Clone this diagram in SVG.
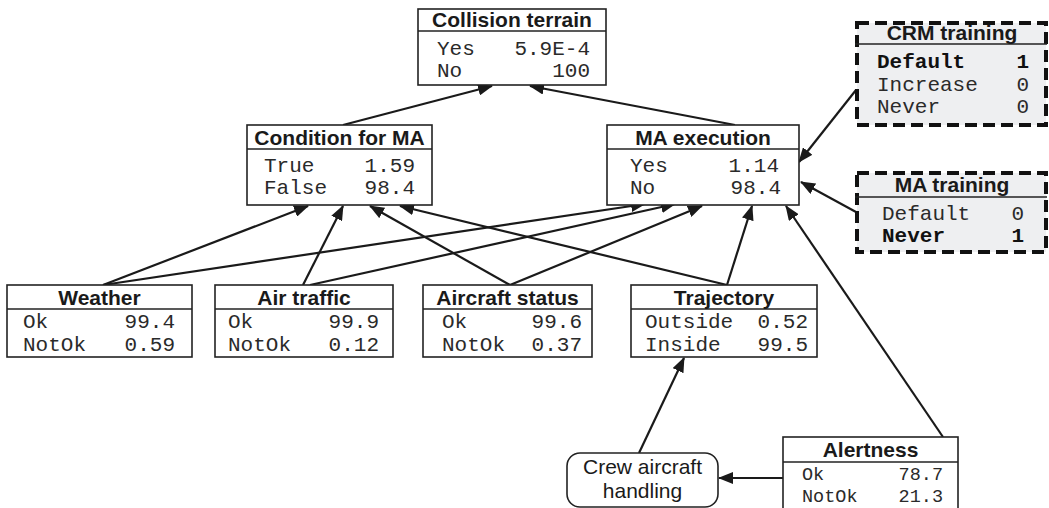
<svg xmlns="http://www.w3.org/2000/svg" width="1049" height="508" viewBox="0 0 1049 508">
<style>
.box{fill:#fff;stroke:#222;stroke-width:1.6}
.dbox{fill:#eeeff1;stroke:#111;stroke-width:4;stroke-dasharray:12 6}
.hl{stroke:#222;stroke-width:1.6}
.t{font-family:"Liberation Sans",Arial,sans-serif;font-weight:bold;font-size:21px;fill:#1a1a1a;text-anchor:middle}
.r{font-family:"Liberation Mono","Courier New",monospace;font-size:21px;fill:#2a2a2a}
.s{font-size:18.5px}
.v{text-anchor:end}
.b{font-weight:bold;fill:#111}
.c{font-family:"Liberation Sans",Arial,sans-serif;font-size:21px;fill:#1a1a1a;text-anchor:middle}
.e{stroke:#1a1a1a;stroke-width:2.2;fill:none;marker-end:url(#ah)}
</style>
<defs>
<marker id="ah" markerUnits="userSpaceOnUse" markerWidth="16" markerHeight="12" refX="14" refY="6" orient="auto">
<path d="M0,0 L15,6 L0,12 z" fill="#1a1a1a"/>
</marker>
</defs>
<rect width="1049" height="508" fill="#fff"/>
<g id="connectors">
<line class="e" x1="343" y1="125" x2="492" y2="86"/>
<line class="e" x1="735" y1="125" x2="530" y2="86"/>
<line class="e" x1="856" y1="90" x2="799" y2="162"/>
<line class="e" x1="856" y1="212" x2="801" y2="182"/>
<line class="e" x1="103" y1="285" x2="308" y2="206"/>
<line class="e" x1="103" y1="285" x2="645" y2="204"/>
<line class="e" x1="303" y1="285" x2="343" y2="206"/>
<line class="e" x1="310" y1="285" x2="675" y2="204"/>
<line class="e" x1="510" y1="285" x2="370" y2="206"/>
<line class="e" x1="510" y1="285" x2="702" y2="206"/>
<line class="e" x1="727" y1="285" x2="400" y2="206"/>
<line class="e" x1="727" y1="285" x2="752" y2="206"/>
<line class="e" x1="943" y1="437" x2="786" y2="206"/>
<line class="e" x1="639" y1="453" x2="684" y2="358"/>
<line class="e" x1="783" y1="478" x2="719" y2="478"/>
</g>
<g id="collision-terrain">
<rect class="box" x="418" y="9" width="188" height="76"/>
<line class="hl" x1="418" y1="31" x2="606" y2="31"/>
<text class="t" x="512" y="27">Collision terrain</text>
<text class="r" x="437" y="55">Yes</text><text class="r v" x="590" y="55">5.9E-4</text>
<text class="r" x="437" y="77">No</text><text class="r v" x="590" y="77">100</text>
</g>
<g id="condition-for-ma">
<rect class="box" x="247" y="125" width="185" height="80"/>
<line class="hl" x1="247" y1="149" x2="432" y2="149"/>
<text class="t" x="339.5" y="145">Condition for MA</text>
<text class="r" x="264" y="172">True</text><text class="r v" x="415" y="172">1.59</text>
<text class="r" x="264" y="194">False</text><text class="r v" x="415" y="194">98.4</text>
</g>
<g id="ma-execution">
<rect class="box" x="607" y="125" width="192" height="80"/>
<line class="hl" x1="607" y1="149" x2="799" y2="149"/>
<text class="t" x="703" y="145">MA execution</text>
<text class="r" x="630" y="172">Yes</text><text class="r v" x="779" y="172">1.14</text>
<text class="r" x="630" y="194">No</text><text class="r v" x="781" y="194">98.4</text>
</g>
<g id="crm-training">
<rect class="dbox" x="857" y="23" width="189" height="102"/>
<line class="hl" x1="855" y1="44" x2="1047" y2="44"/>
<text class="t" x="952" y="40">CRM training</text>
<text class="r b" x="877" y="68">Default</text><text class="r v b" x="1029" y="68">1</text>
<text class="r" x="877" y="91">Increase</text><text class="r v" x="1029" y="91">0</text>
<text class="r" x="877" y="113">Never</text><text class="r v" x="1029" y="113">0</text>
</g>
<g id="ma-training">
<rect class="dbox" x="857" y="173" width="189" height="79"/>
<line class="hl" x1="855" y1="197" x2="1047" y2="197"/>
<text class="t" x="952" y="192">MA training</text>
<text class="r" x="882" y="220">Default</text><text class="r v" x="1024" y="220">0</text>
<text class="r b" x="882" y="242">Never</text><text class="r v b" x="1024" y="242">1</text>
</g>
<g id="weather">
<rect class="box" x="7" y="285" width="185" height="72"/>
<line class="hl" x1="7" y1="309" x2="192" y2="309"/>
<text class="t" x="99.5" y="305">Weather</text>
<text class="r" x="23" y="328">Ok</text><text class="r v" x="175" y="328">99.4</text>
<text class="r" x="23" y="351">NotOk</text><text class="r v" x="175" y="351">0.59</text>
</g>
<g id="air-traffic">
<rect class="box" x="215" y="285" width="178" height="72"/>
<line class="hl" x1="215" y1="309" x2="393" y2="309"/>
<text class="t" x="304" y="305">Air traffic</text>
<text class="r" x="228" y="328">Ok</text><text class="r v" x="379" y="328">99.9</text>
<text class="r" x="228" y="351">NotOk</text><text class="r v" x="379" y="351">0.12</text>
</g>
<g id="aircraft-status">
<rect class="box" x="423" y="285" width="169" height="72"/>
<line class="hl" x1="423" y1="309" x2="592" y2="309"/>
<text class="t" x="507.5" y="305">Aircraft status</text>
<text class="r" x="442" y="328">Ok</text><text class="r v" x="582" y="328">99.6</text>
<text class="r" x="442" y="351">NotOk</text><text class="r v" x="582" y="351">0.37</text>
</g>
<g id="trajectory">
<rect class="box" x="631" y="285" width="186" height="72"/>
<line class="hl" x1="631" y1="309" x2="817" y2="309"/>
<text class="t" x="724" y="305">Trajectory</text>
<text class="r" x="645" y="328">Outside</text><text class="r v" x="808" y="328">0.52</text>
<text class="r" x="645" y="351">Inside</text><text class="r v" x="808" y="351">99.5</text>
</g>
<g id="alertness">
<rect class="box" x="783" y="437" width="175" height="80"/>
<line class="hl" x1="783" y1="462" x2="958" y2="462"/>
<text class="t" x="870.5" y="457">Alertness</text>
<text class="r s" x="802" y="480">Ok</text><text class="r s v" x="943" y="480">78.7</text>
<text class="r s" x="802" y="502">NotOk</text><text class="r s v" x="943" y="502">21.3</text>
</g>
<g id="crew-aircraft-handling">
<rect class="box" x="567" y="453" width="151" height="54" rx="13"/>
<text class="c" x="642.5" y="474">Crew aircraft</text>
<text class="c" x="642.5" y="498">handling</text>
</g>
</svg>
